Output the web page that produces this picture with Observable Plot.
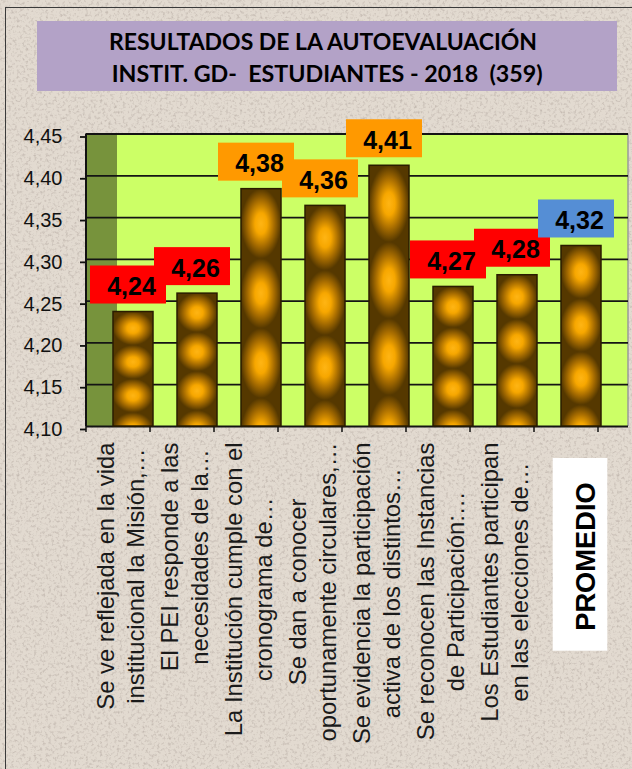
<!DOCTYPE html>
<html>
<head>
<meta charset="utf-8">
<script src="https://cdn.jsdelivr.net/npm/d3@7"></script>
<script src="https://cdn.jsdelivr.net/npm/@observablehq/plot@0.6"></script>
<style>
html, body { margin: 0; padding: 0; width: 632px; height: 769px; overflow: hidden; }
body {
  background-color: #e2dad0;
  background-image: url("data:image/svg+xml;utf8,<svg xmlns='http://www.w3.org/2000/svg' width='300' height='300'><filter id='n' x='0' y='0' width='1' height='1' color-interpolation-filters='sRGB'><feTurbulence type='fractalNoise' baseFrequency='0.35' numOctaves='3' seed='7'/><feColorMatrix values='0 0 0 0 0.62  0 0 0 0 0.57  0 0 0 0 0.54  0 0 0 1.1 -0.54'/></filter><rect width='300' height='300' filter='url(%23n)'/></svg>");
  font-family: "Liberation Sans", Arial, sans-serif;
}
#head { position: relative; height: 100px; }
#title { position: absolute; left: 37px; top: 21px; width: 580px; height: 70px; background: #b3a2c7; }
#title svg { display: block; }
#title text { font-family: Lato, "Open Sans", sans-serif; font-weight: bold; font-size: 23.3px; fill: #000; white-space: pre; }
#chart { position: relative; }
#frame { position: absolute; left: 5px; top: 7px; width: 700px; height: 800px;
  border-left: 1.5px solid #3a3a3a; border-top: 1.5px solid #3a3a3a; pointer-events: none; }
</style>
</head>
<body>
<div id="head">
  <div id="title">
    <svg width="580" height="70">
      <text x="72" y="29.3" textLength="428" lengthAdjust="spacingAndGlyphs">RESULTADOS DE LA AUTOEVALUACIÓN</text>
      <text x="74.7" y="61" textLength="431" lengthAdjust="spacingAndGlyphs">INSTIT. GD-  ESTUDIANTES - 2018  (359)</text>
    </svg>
  </div>
</div>
<div id="chart"></div>
<div id="frame"></div>
<script>
// ---------- data ----------
const categories = [
  "Se ve reflejada en la vida\ninstitucional la Misión,…",
  "El PEI responde a las\nnecesidades de la…",
  "La Institución cumple con el\ncronograma de…",
  "Se dan a conocer\noportunamente circulares,…",
  "Se evidencia la participación\nactiva de los distintos…",
  "Se reconocen las Instancias\nde Participación:…",
  "Los Estudiantes participan\nen las elecciones de…",
  "PROMEDIO"
];
const values = [4.237, 4.259, 4.384, 4.364, 4.412, 4.267, 4.281, 4.316];
const yTicks = [4.10, 4.15, 4.20, 4.25, 4.30, 4.35, 4.40, 4.45];
const yDomain = [4.10, 4.45];
const averageCategory = "PROMEDIO";

const rows = categories.map((c, i) => ({cat: c, value: values[i]}));

// ---------- helpers ----------
const FONT = "Liberation Sans, Arial, sans-serif";
const ctx = document.createElement("canvas").getContext("2d");
function textWidth(s, font) { ctx.font = font; return ctx.measureText(s).width; }
const comma = v => d3.format(".2f")(v).replace(".", ",");
const boxColor = r => r.cat === averageCategory ? "#558ed5" : (r.value < 4.3 ? "#ff0000" : "#ff9900");

const W = 632, H = 669;
const DEPTH = 31;          // visual depth of the 3D side wall
const LABEL_DX = -5, LABEL_DY = -27, BOX_W = 76, BOX_H = 38;
const XLAB_SIZE = 23.8, XLAB_GAP = 16, XLAB_DX = -14;

// defs: bar texture
const defsMark = () => {
  const d = d3.create("svg:defs");
  const rg = d.append("radialGradient").attr("id", "blob").attr("cx", 0.5).attr("cy", 0.5).attr("r", 0.5);
  [[0, "#ffb514"], [0.3, "#f7a700"], [0.65, "#a86d00"], [1, "#553800"]].forEach(([o, c]) =>
    rg.append("stop").attr("offset", o).attr("stop-color", c));
  const p = d.append("pattern").attr("id", "barPat")
    .attr("patternUnits", "objectBoundingBox").attr("patternContentUnits", "objectBoundingBox")
    .attr("x", 0).attr("y", 0).attr("width", 1).attr("height", 0.294);
  p.append("rect").attr("width", 1).attr("height", 0.294).attr("fill", "url(#blob)");
  return d.node();
};

// walls (back wall and left side wall)
const wallMark = (index, {x, y}, vals, dims) => {
  const g = d3.create("svg:g");
  const left = dims.marginLeft, right = dims.width - dims.marginRight;
  const top = y(yDomain[1]), bottom = y(yDomain[0]);
  g.append("rect").attr("x", left + DEPTH).attr("y", top).attr("width", right - left - DEPTH)
    .attr("height", bottom - top).attr("fill", "#ccff66");
  g.append("rect").attr("x", left).attr("y", top).attr("width", DEPTH)
    .attr("height", bottom - top).attr("fill", "#77933c");
  g.append("line").attr("x1", right).attr("x2", right).attr("y1", top).attr("y2", bottom)
    .attr("stroke", "#9a9a9a").attr("stroke-width", 1.5);
  return g.node();
};

// axis lines and category ticks
const axisMark = (index, {x, y}, vals, dims) => {
  const g = d3.create("svg:g").attr("stroke", "#111");
  const left = dims.marginLeft;
  const top = y(yDomain[1]), bottom = y(yDomain[0]);
  const step = x.step();
  g.append("line").attr("x1", left).attr("x2", left).attr("y1", top).attr("y2", bottom).attr("stroke-width", 2);
  d3.range(categories.length + 1).forEach(k => {
    g.append("line").attr("x1", left + k * step).attr("x2", left + k * step)
      .attr("y1", bottom).attr("y2", bottom + 6).attr("stroke-width", 1.5);
  });
  return g.node();
};

// value label boxes
const labelBoxMark = (index, {x, y}) => {
  const g = d3.create("svg:g");
  const bw = x.bandwidth();
  rows.forEach(r => {
    const cx = x(r.cat) + bw / 2 + LABEL_DX, cy = y(r.value) + LABEL_DY;
    g.append("rect").attr("x", cx - BOX_W / 2).attr("y", cy - BOX_H / 2)
      .attr("width", BOX_W).attr("height", BOX_H).attr("fill", boxColor(r));
  });
  return g.node();
};

// white box behind the PROMEDIO label
const avgBoxMark = (index, {x, y}) => {
  const bw = x.bandwidth();
  const cx = x(averageCategory) + bw / 2;
  const bottom = y(yDomain[0]);
  return d3.create("svg:rect").attr("x", cx - 28.3).attr("y", bottom + 32)
    .attr("width", 54.6).attr("height", 192.7).attr("fill", "#ffffff").node();
};

// x labels (one text mark per category, centred lines like the original)
const xLabelMarks = rows.map(r => {
  const isAvg = r.cat === averageCategory;
  const size = isAvg ? 27.3 : XLAB_SIZE;
  const font = `${isAvg ? "bold " : ""}${size}px ${FONT}`;
  const maxW = d3.max(r.cat.split("\n"), l => textWidth(l, font));
  return Plot.text([r], {
    x: "cat", text: "cat", frameAnchor: "bottom", rotate: -90,
    textAnchor: "middle", lineAnchor: "middle", lineHeight: 1.26,
    fontSize: size, fontWeight: isAvg ? "bold" : "normal", fontFamily: FONT,
    fill: isAvg ? "#000" : "#1a1a1a",
    dx: isAvg ? 2 : XLAB_DX,
    dy: isAvg ? 130 : XLAB_GAP + maxW / 2
  });
});

const chart = Plot.plot({
  width: W, height: H,
  marginLeft: 86, marginRight: 4, marginTop: 33.5, marginBottom: 343,
  style: {background: "transparent", overflow: "visible", fontFamily: FONT},
  x: {domain: categories, range: [101, 613], paddingInner: 0.375, paddingOuter: 0.1875, axis: null},
  y: {domain: yDomain, axis: null},
  marks: [
    defsMark,
    wallMark,
    Plot.ruleY(yTicks, {stroke: "#141414", strokeWidth: 1.8}),
    Plot.axisY(yTicks, {
      tickFormat: comma, tickSize: 6, tickPadding: 18, fontSize: 20, fontFamily: FONT,
      stroke: "#111", strokeWidth: 1.8, fill: "#111", dy: 3, label: null
    }),
    axisMark,
    Plot.barY(rows, {x: "cat", y1: yDomain[0], y2: "value", fill: "url(#barPat)", stroke: "#2a1c00", strokeWidth: 1.5}),
    labelBoxMark,
    Plot.text(rows, {
      x: "cat", y: "value", text: r => comma(r.value),
      dx: LABEL_DX + 3, dy: LABEL_DY + 2,
      fontSize: 25, fontWeight: "bold", fontFamily: FONT, fill: "#000"
    }),
    avgBoxMark,
    ...xLabelMarks
  ]
});
document.getElementById("chart").appendChild(chart);
</script>
</body>
</html>
